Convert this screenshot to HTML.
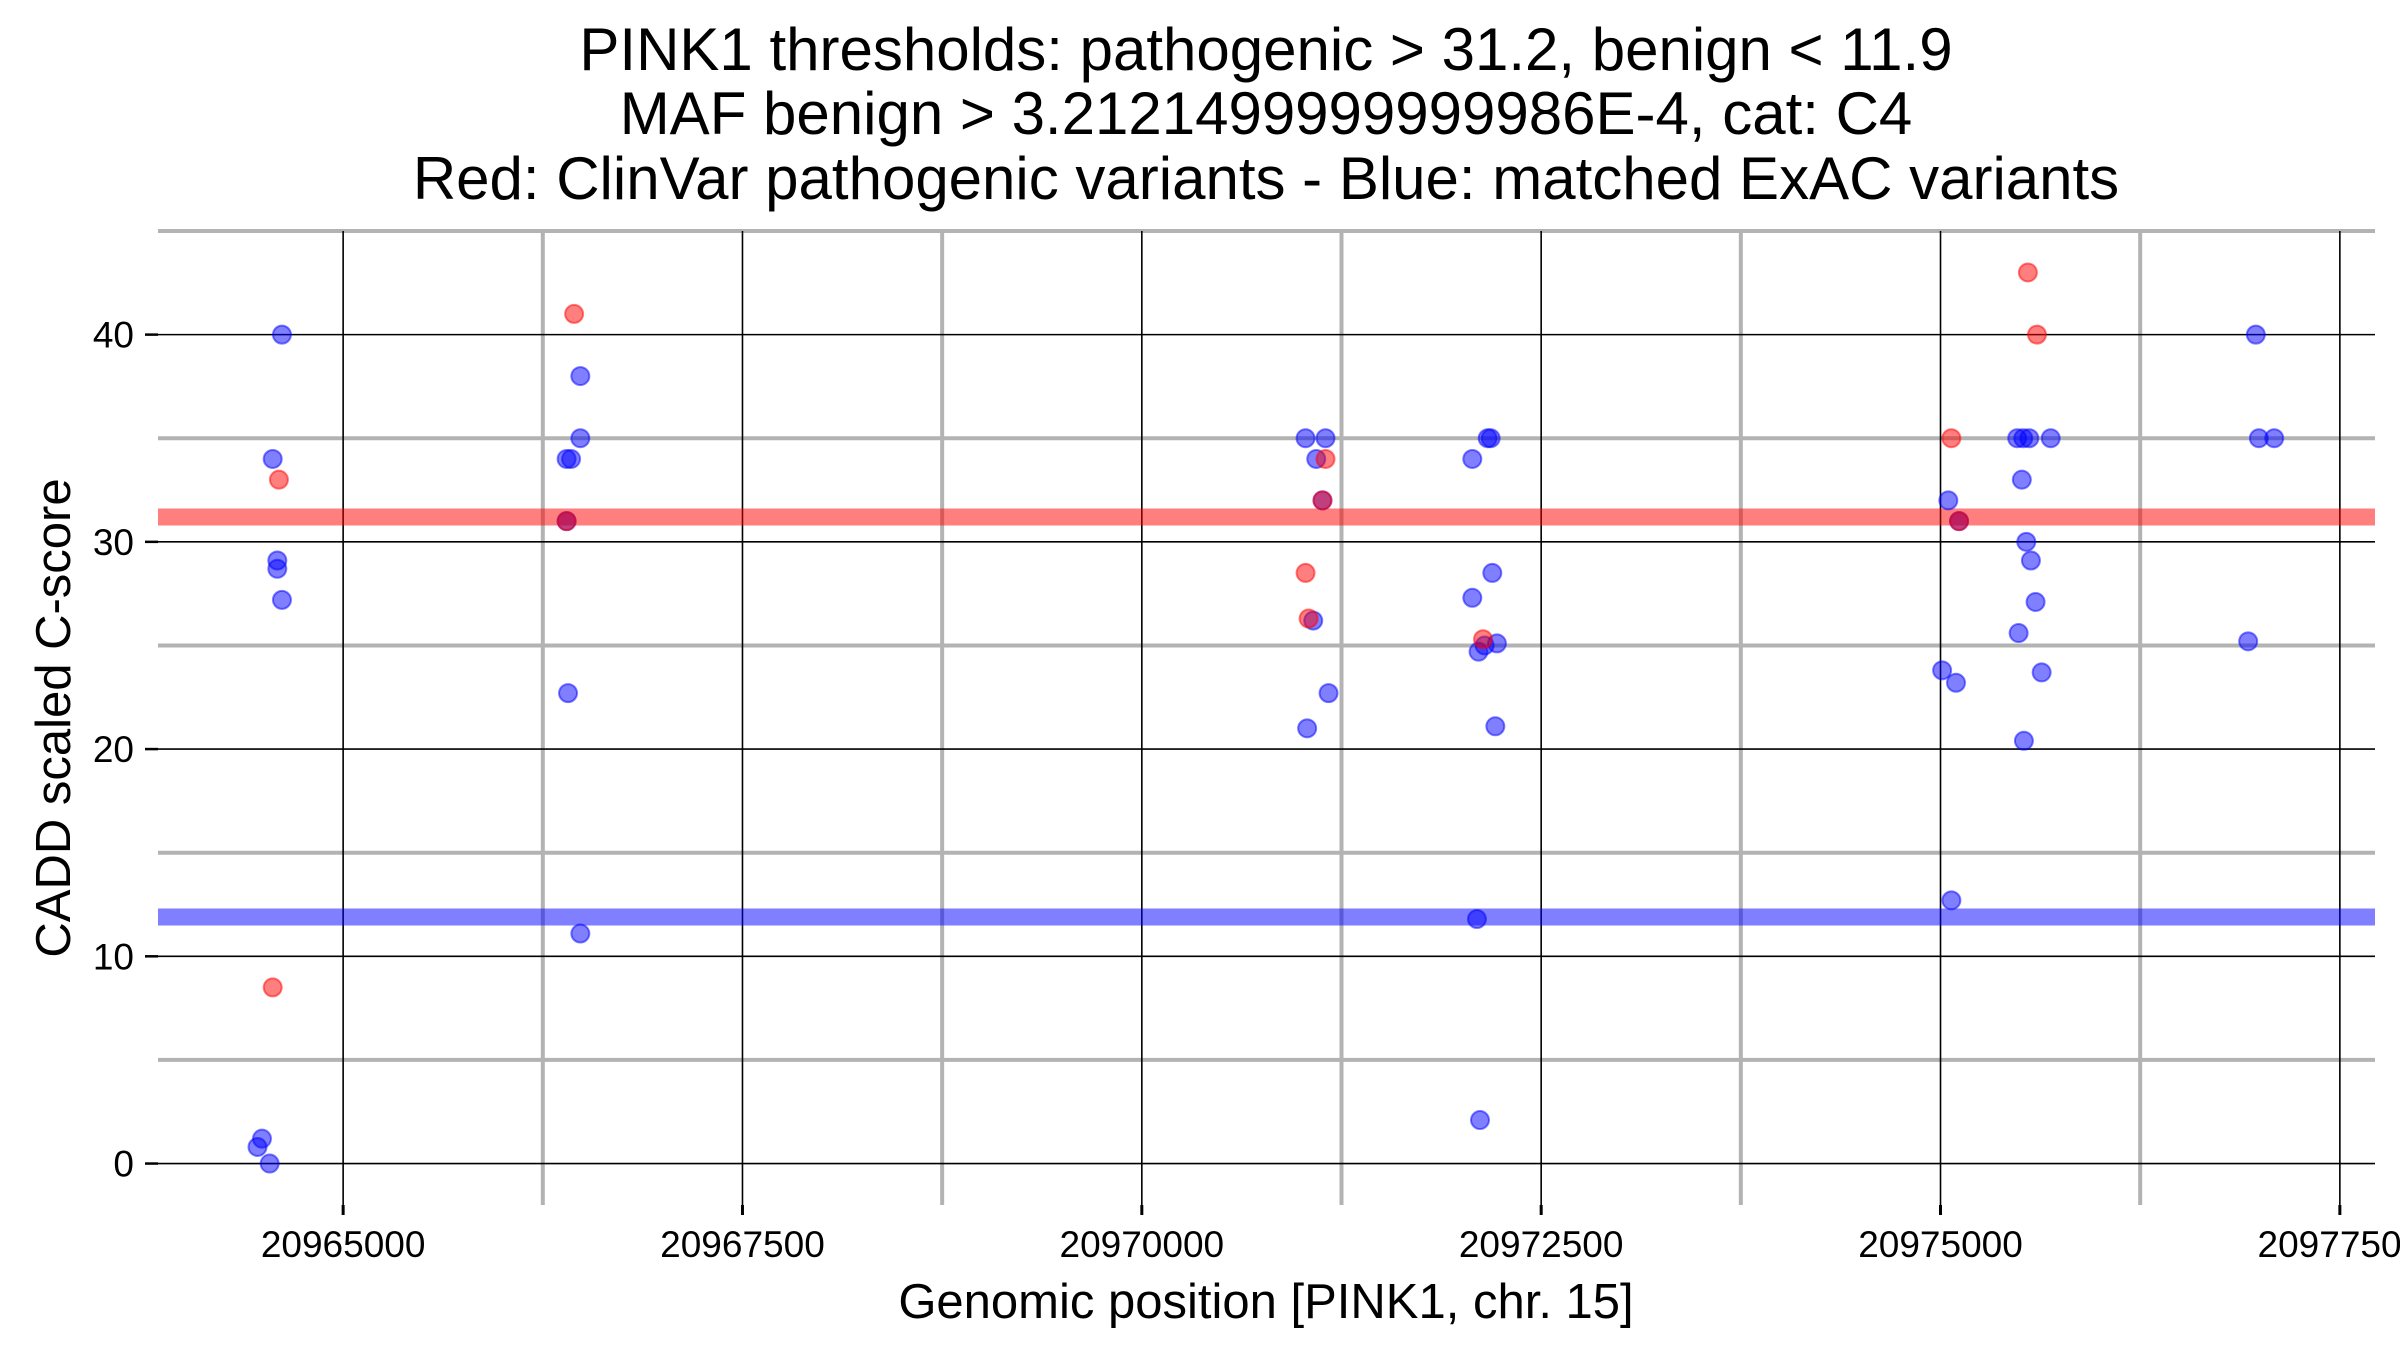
<!DOCTYPE html>
<html><head><meta charset="utf-8"><style>
html,body{margin:0;padding:0;background:#fff;}
svg{display:block;font-family:"Liberation Sans",sans-serif;}
</style></head><body>
<svg id="chart" width="2400" height="1350" viewBox="0 0 2400 1350" xmlns="http://www.w3.org/2000/svg">
<g id="title" font-size="60" text-anchor="middle" fill="#000">
<text x="1266" y="70">PINK1 thresholds: pathogenic &gt; 31.2, benign &lt; 11.9</text>
<text x="1266" y="134">MAF benign &gt; 3.2121499999999986E-4, cat: C4</text>
<text x="1266" y="199">Red: ClinVar pathogenic variants - Blue: matched ExAC variants</text>
</g>
<g id="grid"></g>
<g id="thresholds"></g>
<g id="points"></g>
<g id="axes"></g>
<text x="1266" y="1318" font-size="49" text-anchor="middle">Genomic position [PINK1, chr. 15]</text>
<text transform="translate(70,718) rotate(-90)" font-size="49" text-anchor="middle">CADD scaled C-score</text>
</svg>
<script>
const xTicks = [20965000, 20967500, 20970000, 20972500, 20975000, 20977500];
const xMinor = [20966250, 20968750, 20971250, 20973750, 20976250];
const yTicks = [0, 10, 20, 30, 40];
const yMinor = [5, 15, 25, 35, 45];
const thresholdPath = 31.2;
const thresholdBenign = 11.9;
const redX = [20966446, 20964598, 20964559, 20971150, 20971131, 20971025, 20971044, 20972136, 20975068, 20975547, 20975604, 20975116, 20966399];
const redY = [41, 33, 8.5, 34, 32, 28.5, 26.3, 25.3, 35, 43, 40, 31, 31];
const blueX = [20964617, 20964559, 20964588, 20964588, 20964617, 20964464, 20964492, 20964540,
  20966485, 20966485, 20966399, 20966427, 20966399, 20966408, 20966485,
  20971025, 20971150, 20971092, 20971131, 20971073, 20971035, 20971169,
  20972069, 20972165, 20972184, 20972069, 20972194, 20972108, 20972146, 20972223, 20972213, 20972098, 20972117,
  20975049, 20975010, 20975097, 20975068, 20975509, 20975480, 20975518, 20975556, 20975690, 20975537, 20975566, 20975595, 20975489, 20975633, 20975522, 20975116,
  20976974, 20976993, 20977089, 20976926];
const blueY = [40, 34, 29.1, 28.7, 27.2, 0.8, 1.2, 0,
  38, 35, 34, 34, 31, 22.7, 11.1,
  35, 35, 34, 32, 26.2, 21, 22.7,
  34, 35, 35, 27.3, 28.5, 24.7, 25, 25.1, 21.1, 11.8, 2.1,
  32, 23.8, 23.2, 12.7, 33, 35, 35, 35, 35, 30, 29.1, 27.1, 25.6, 23.7, 20.4, 31,
  40, 35, 35, 25.2];

const NS = "http://www.w3.org/2000/svg";
const L = 158, R = 2375, T = 231, B = 1205;
const xMin = 20963841, xMax = 20977720, yMin = -2.0, yMax = 45;
function sx(v){ return L + (v - xMin) / (xMax - xMin) * (R - L); }
function sy(v){ return B - (v - yMin) / (yMax - yMin) * (B - T); }
function mk(tag, attrs, parent){
  const e = document.createElementNS(NS, tag);
  for (const k in attrs) e.setAttribute(k, attrs[k]);
  parent.appendChild(e); return e;
}
const grid = document.getElementById('grid');
const axes = document.getElementById('axes');
xMinor.forEach(v => {
  const l = mk('line', {x1: sx(v), x2: sx(v), y1: T, y2: B, stroke: '#b3b3b3', 'stroke-width': 4}, grid);
  
  
});
yMinor.forEach(v => {
  const l = mk('line', {x1: L, x2: R, y1: sy(v), y2: sy(v), stroke: '#b3b3b3', 'stroke-width': 4}, grid);
  
  
});
xTicks.forEach(v => {
  const l = mk('line', {x1: sx(v), x2: sx(v), y1: T, y2: B, stroke: '#000', 'stroke-width': 1.6}, grid);
  
  
  const t = mk('line', {x1: sx(v), x2: sx(v), y1: B, y2: B + 10, stroke: '#000', 'stroke-width': 3}, axes);
  
  
  const tx = mk('text', {x: sx(v), y: B + 52, 'font-size': 37, 'text-anchor': 'middle'}, axes);
  tx.textContent = v;
  
  
});
yTicks.forEach(v => {
  const l = mk('line', {x1: L, x2: R, y1: sy(v), y2: sy(v), stroke: '#000', 'stroke-width': 1.6}, grid);
  
  
  const t = mk('line', {x1: L - 13, x2: L, y1: sy(v), y2: sy(v), stroke: '#000', 'stroke-width': 2.5}, axes);
  
  
  const tx = mk('text', {x: L - 24, y: sy(v) + 13, 'font-size': 37, 'text-anchor': 'end'}, axes);
  tx.textContent = v;
  
  
});
const th = document.getElementById('thresholds');
const rl = mk('line', {x1: L, x2: R, y1: sy(thresholdPath), y2: sy(thresholdPath), stroke: 'rgba(255,0,0,0.5)', 'stroke-width': 17}, th);


const bl = mk('line', {x1: L, x2: R, y1: sy(thresholdBenign), y2: sy(thresholdBenign), stroke: 'rgba(0,0,255,0.5)', 'stroke-width': 17}, th);


const pts = document.getElementById('points');
blueX.forEach((x, i) => {
  const c = mk('circle', {cx: sx(x), cy: sy(blueY[i]), r: 9, fill: 'rgba(0,0,255,0.5)', stroke: 'rgba(0,0,255,0.5)', 'stroke-width': 2}, pts);
  
  
});
redX.forEach((x, i) => {
  const c = mk('circle', {cx: sx(x), cy: sy(redY[i]), r: 9, fill: 'rgba(255,0,0,0.5)', stroke: 'rgba(255,0,0,0.5)', 'stroke-width': 2}, pts);
  
  
});
</script>
</body></html>
